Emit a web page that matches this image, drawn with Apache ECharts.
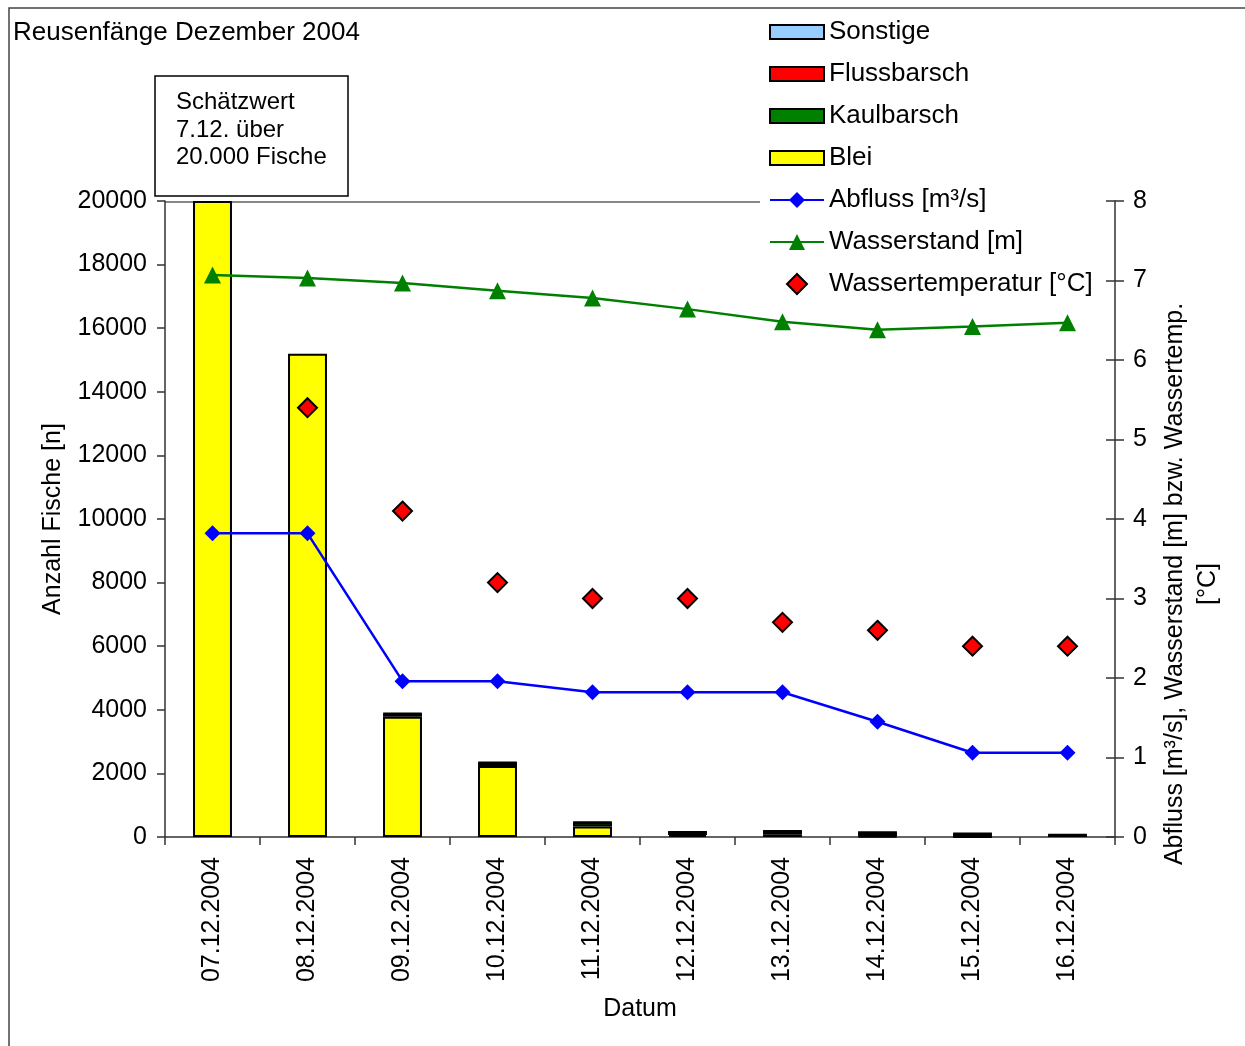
<!DOCTYPE html>
<html>
<head>
<meta charset="utf-8">
<script src="https://cdn.jsdelivr.net/npm/echarts@6/dist/echarts.min.js"></script>
<style>
  html, body { margin: 0; padding: 0; background: #fff; }
  #chart { width: 1245px; height: 1046px; }
</style>
</head>
<body>
<div id="chart"></div>
<script>
// Fangdaten der Reusen, Dezember 2004
const dates = ['07.12.2004', '08.12.2004', '09.12.2004', '10.12.2004', '11.12.2004',
               '12.12.2004', '13.12.2004', '14.12.2004', '15.12.2004', '16.12.2004'];

// Anzahl Fische je Art (gestapelt)
const blei        = [20000, 15200, 3780, 2230, 330, 60, 90, 20, 5, null];
const kaulbarsch  = [null, null, 100, 110, 130, 95, 95, 125, 100, 65];
const flussbarsch = [null, null, 10, 10, 10, 5, 5, 5, 5, 5];
const sonstige    = [null, null, null, null, null, null, null, null, null, null];

// Hydrologie / Temperatur (rechte Achse)
const abfluss     = [3.82, 3.82, 1.96, 1.96, 1.82, 1.82, 1.82, 1.45, 1.06, 1.06];
const wasserstand = [7.07, 7.03, 6.97, 6.87, 6.78, 6.64, 6.48, 6.38, 6.42, 6.47];
const temperatur  = [null, 5.4, 4.1, 3.2, 3.0, 3.0, 2.7, 2.6, 2.4, 2.4];

// Achsenteilung
const leftTicks  = { min: 0, max: 20000, interval: 2000 };
const rightTicks = { min: 0, max: 8, interval: 1 };

const FONT = 'Liberation Sans';
const FS = 25;
const axisColor = '#333';

const barBase = {
  type: 'bar',
  stack: 'fische',
  barWidth: '41%'
};

const legendText = { fontFamily: FONT, fontSize: 26, color: '#000', lineHeight: 30 };

const chart = echarts.init(document.getElementById('chart'));

chart.setOption({
  animation: false,
  backgroundColor: '#fff',
  textStyle: { fontFamily: FONT },
  grid: { left: 165, right: 130, top: 201, bottom: 209 },
  legend: [
    {
      orient: 'vertical',
      left: 769, top: 17,
      padding: 0,
      itemWidth: 54, itemHeight: 14, itemGap: 12,
      selectedMode: false,
      textStyle: legendText,
      data: [
        { name: 'Sonstige', icon: 'rect' },
        { name: 'Flussbarsch', icon: 'rect' },
        { name: 'Kaulbarsch', icon: 'rect' },
        { name: 'Blei', icon: 'rect' }
      ]
    },
    {
      orient: 'vertical',
      left: 769, top: 185,
      padding: 0,
      itemWidth: 54, itemHeight: 20, itemGap: 12,
      selectedMode: false,
      textStyle: legendText,
      data: [
        'Abfluss [m³/s]',
        'Wasserstand [m]',
        { name: 'Wassertemperatur [°C]', icon: 'path://M0,-1L1,0L0,1L-1,0Z' }
      ]
    }
  ],
  xAxis: {
    type: 'category',
    data: dates,
    boundaryGap: true,
    name: 'Datum',
    nameLocation: 'middle',
    nameGap: 160,
    nameTextStyle: { fontFamily: FONT, fontSize: FS, color: '#000' },
    axisLine: { lineStyle: { color: axisColor, width: 1.5 } },
    axisTick: { show: true, alignWithLabel: false, length: 8, lineStyle: { color: axisColor, width: 1.5 } },
    axisLabel: { rotate: 90, margin: 20, fontFamily: FONT, fontSize: FS, color: '#000', interval: 0 },
    splitLine: { show: false }
  },
  yAxis: [
    {
      type: 'value',
      min: leftTicks.min, max: leftTicks.max, interval: leftTicks.interval,
      name: 'Anzahl Fische [n]',
      nameLocation: 'middle',
      nameGap: 99,
      nameTextStyle: { fontFamily: FONT, fontSize: FS, color: '#000' },
      axisLine: { show: true, lineStyle: { color: axisColor, width: 1.5 } },
      axisTick: { show: true, length: 8, lineStyle: { color: axisColor, width: 1.5 } },
      axisLabel: { margin: 18, fontFamily: FONT, fontSize: FS, color: '#000', formatter: v => String(v) },
      splitLine: { show: false }
    },
    {
      type: 'value',
      position: 'right',
      min: rightTicks.min, max: rightTicks.max, interval: rightTicks.interval,
      axisLine: { show: true, lineStyle: { color: axisColor, width: 1.5 } },
      axisTick: { show: true, length: 9, lineStyle: { color: axisColor, width: 1.5 } },
      axisLabel: { margin: 18, fontFamily: FONT, fontSize: FS, color: '#000' },
      splitLine: { show: false }
    },
    {
      // inner half of the crossing ticks on the right axis
      type: 'value',
      position: 'right',
      min: rightTicks.min, max: rightTicks.max, interval: rightTicks.interval,
      axisLine: { show: false },
      axisTick: { show: true, inside: true, length: 9, lineStyle: { color: axisColor, width: 1.5 } },
      axisLabel: { show: false },
      splitLine: { show: false }
    }
  ],
  series: [
    Object.assign({}, barBase, { name: 'Blei', data: blei, itemStyle: { color: '#ffff00', borderColor: '#000', borderWidth: 2 } }),
    Object.assign({}, barBase, { name: 'Kaulbarsch', data: kaulbarsch, itemStyle: { color: '#008000', borderColor: '#000', borderWidth: 2 } }),
    Object.assign({}, barBase, { name: 'Flussbarsch', data: flussbarsch, itemStyle: { color: '#ff0000', borderColor: '#000', borderWidth: 2 } }),
    Object.assign({}, barBase, { name: 'Sonstige', data: sonstige, itemStyle: { color: '#99ccff', borderColor: '#000', borderWidth: 2 } }),
    {
      name: 'Abfluss [m³/s]',
      type: 'line',
      yAxisIndex: 1,
      data: abfluss,
      symbol: 'diamond',
      symbolSize: 16,
      lineStyle: { color: '#0000ff', width: 2.5 },
      itemStyle: { color: '#0000ff' },
      z: 5
    },
    {
      name: 'Wasserstand [m]',
      type: 'line',
      yAxisIndex: 1,
      data: wasserstand,
      symbol: 'triangle',
      symbolSize: 17,
      lineStyle: { color: '#008000', width: 2.5 },
      itemStyle: { color: '#008000' },
      z: 5
    },
    {
      name: 'Wassertemperatur [°C]',
      type: 'scatter',
      yAxisIndex: 1,
      data: temperatur,
      symbol: 'diamond',
      symbolSize: 19,
      itemStyle: { color: '#ff0000', borderColor: '#000', borderWidth: 2, opacity: 1 },
      z: 6
    }
  ],
  graphic: [
    {
      type: 'rect', z: -10, silent: true,
      shape: { x: 9, y: 8, width: 1400, height: 1200 },
      style: { fill: 'none', stroke: '#444', lineWidth: 1.5 }
    },
    {
      type: 'line', z: 0, silent: true,
      shape: { x1: 165, y1: 202, x2: 760, y2: 202 },
      style: { stroke: '#888', lineWidth: 2 }
    },
    {
      type: 'text', silent: true,
      x: 13, y: 33,
      style: {
        text: 'Reusenfänge Dezember 2004',
        font: '26px "' + FONT + '"',
        fill: '#000',
        align: 'left',
        verticalAlign: 'middle'
      }
    },
    {
      type: 'group',
      children: [
        {
          type: 'rect', silent: true,
          shape: { x: 155, y: 76, width: 193, height: 120 },
          style: { fill: '#fff', stroke: '#000', lineWidth: 1.5 }
        },
        {
          type: 'text', silent: true,
          x: 176, y: 89,
          style: {
            text: 'Schätzwert\n7.12. über\n20.000 Fische',
            font: '24px "' + FONT + '"',
            lineHeight: 27.5,
            fill: '#000',
            align: 'left',
            verticalAlign: 'top'
          }
        }
      ]
    },
    {
      type: 'text', silent: true,
      x: 1192, y: 584,
      rotation: Math.PI / 2,
      style: {
        text: 'Abfluss [m³/s], Wasserstand [m] bzw. Wassertemp.\n[°C]',
        font: FS + 'px "' + FONT + '"',
        lineHeight: 33,
        fill: '#000',
        align: 'center',
        verticalAlign: 'middle'
      }
    }
  ]
});
</script>
</body>
</html>
